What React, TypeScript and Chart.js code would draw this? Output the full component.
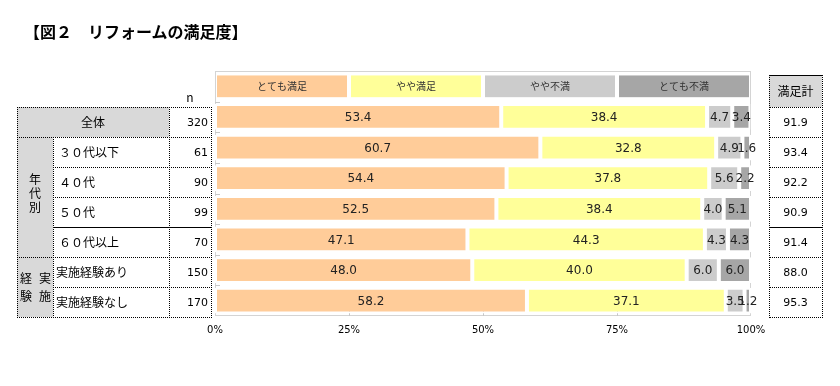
import React, { useEffect, useRef } from 'react';
import { Chart, registerables } from 'chart.js';

Chart.register(...registerables);

// ---- data ----
const categories = ['全体', '３０代以下', '４０代', '５０代', '６０代以上', '実施経験あり', '実施経験なし'];
const sampleSizes = [320, 61, 90, 99, 70, 150, 170];
const seriesNames = ['とても満足', 'やや満足', 'やや不満', 'とても不満'];
const veryHappy = [53.4, 60.7, 54.4, 52.5, 47.1, 48.0, 58.2];
const somewhatHappy = [38.4, 32.8, 37.8, 38.4, 44.3, 40.0, 37.1];
const somewhatUnhappy = [4.7, 4.9, 5.6, 4.0, 4.3, 6.0, 3.5];
const veryUnhappy = [3.4, 1.6, 2.2, 5.1, 4.3, 6.0, 1.2];
const satisfiedTotal = [91.9, 93.4, 92.2, 90.9, 91.4, 88.0, 95.3];
const xTicks = [0, 25, 50, 75, 100];

const COLORS = ['#FFCC99', '#FFFF99', '#CCCCCC', '#A6A6A6'];
const JP = '"Noto Sans CJK JP", sans-serif';
const NUM = '"DejaVu Sans", sans-serif';

// ---- table layout ----
const ROW_Y = [107, 137, 167, 197, 227, 257, 287, 317];
const LX = [17, 53, 169, 211];
const RX = [769, 822];
const R_TOP = 75;
const GRAY = '#D9D9D9';

const H = ({ x1, x2, y, solid }: any) => (
  <div style={{ position: 'absolute', left: x1, top: y, width: x2 - x1 + 1, height: 0, borderTop: `1px ${solid ? 'solid' : 'dotted'} #000` }} />
);
const V = ({ x, y1, y2, solid }: any) => (
  <div style={{ position: 'absolute', left: x, top: y1, width: 0, height: y2 - y1 + 1, borderLeft: `1px ${solid ? 'solid' : 'dotted'} #000` }} />
);
const Box = ({ x1, x2, y1, y2, bg }: any) => (
  <div style={{ position: 'absolute', left: x1, top: y1, width: x2 - x1, height: y2 - y1, background: bg }} />
);
const T = ({ x, y, w, h, align, font, size, children, weight }: any) => (
  <div
    style={{
      position: 'absolute', left: x, top: y, width: w, height: h, display: 'flex', alignItems: 'center',
      justifyContent: align || 'center', fontFamily: font || JP, fontSize: size || 12, color: '#000',
      whiteSpace: 'nowrap', lineHeight: 1, fontWeight: weight || 'normal',
    }}
  >
    {children}
  </div>
);

const decorPlugin = {
  id: 'decor',
  beforeDatasetsDraw(chart: any) {
    const { ctx, chartArea: a, scales } = chart;
    const x = scales.x, y = scales.y;
    ctx.save();
    ctx.strokeStyle = '#D4D4D4';
    ctx.lineWidth = 1;
    ctx.strokeRect(Math.round(a.left) + 0.5, Math.round(a.top) + 0.5, Math.round(a.width) - 1, Math.round(a.height) - 1);
    ctx.strokeStyle = '#C8C8C8';
    ctx.beginPath();
    xTicks.slice(1, -1).forEach((v) => {
      const px = Math.round(x.getPixelForValue(v)) + 0.5;
      ctx.moveTo(px, a.bottom);
      ctx.lineTo(px, a.bottom - 5);
    });
    const n = chart.data.labels.length;
    for (let i = 1; i < n; i++) {
      const py = Math.round((y.getPixelForValue(i - 1) + y.getPixelForValue(i)) / 2) + 0.5;
      ctx.moveTo(a.left, py);
      ctx.lineTo(a.left + 5, py);
    }
    ctx.stroke();
    ctx.restore();
  },
  afterDatasetsDraw(chart: any) {
    const { ctx, scales } = chart;
    const x = scales.x, y = scales.y;
    ctx.save();
    // legend row (category 0)
    const ref = chart.getDatasetMeta(0).data[1];
    const h = ref.height;
    const cy = y.getPixelForValue(0);
    seriesNames.forEach((name, i) => {
      const x0 = x.getPixelForValue(xTicks[i]);
      const x1 = x.getPixelForValue(xTicks[i + 1]);
      ctx.fillStyle = COLORS[i];
      ctx.fillRect(x0 + 2, cy - h / 2 + 2, x1 - x0 - 4, h - 4);
      ctx.fillStyle = '#333';
      ctx.font = `10px ${JP}`;
      ctx.textAlign = 'center';
      ctx.textBaseline = 'middle';
      ctx.fillText(name, (x0 + x1) / 2, cy);
    });
    // value labels
    ctx.font = `12px ${NUM}`;
    ctx.fillStyle = '#222';
    ctx.textAlign = 'center';
    ctx.textBaseline = 'middle';
    chart.data.datasets.forEach((ds: any, di: number) => {
      const meta = chart.getDatasetMeta(di);
      meta.data.forEach((el: any, idx: number) => {
        const v = ds.data[idx];
        if (v == null) return;
        const p = el.getProps(['x', 'base', 'y'], true);
        ctx.fillText(Number(v).toFixed(1), (p.x + p.base) / 2, p.y + 1);
      });
    });
    ctx.restore();
  },
};

function BarChart() {
  const ref = useRef<HTMLCanvasElement | null>(null);
  useEffect(() => {
    if (!ref.current) return;
    const series = [veryHappy, somewhatHappy, somewhatUnhappy, veryUnhappy];
    const chart = new Chart(ref.current, {
      type: 'bar',
      data: {
        labels: ['', ...categories],
        datasets: series.map((d, i) => ({
          label: seriesNames[i],
          data: [null, ...d],
          backgroundColor: COLORS[i],
          borderColor: '#FFFFFF',
          borderWidth: 2,
          borderSkipped: false,
          barPercentage: 0.84,
          categoryPercentage: 1,
        })),
      } as any,
      options: {
        indexAxis: 'y',
        animation: false,
        responsive: false,
        maintainAspectRatio: false,
        layout: { padding: { left: 215, right: 89, top: 71, bottom: 42 } },
        plugins: { legend: { display: false }, tooltip: { enabled: false } },
        scales: {
          x: {
            stacked: true,
            min: 0,
            max: 100,
            afterBuildTicks: (axis: any) => {
              axis.ticks = xTicks.map((v) => ({ value: v }));
            },
            ticks: {
              callback: (v: any) => v + '%',
              font: { family: 'DejaVu Sans', size: 10 },
              color: '#000',
              padding: 8,
              maxRotation: 0,
              autoSkip: false,
            },
            grid: { display: false, drawTicks: false },
            border: { display: false },
          },
          y: { stacked: true, display: false },
        },
      } as any,
      plugins: [decorPlugin],
    });
    return () => chart.destroy();
  }, []);
  return <canvas ref={ref} width={840} height={386} style={{ position: 'absolute', left: 0, top: 0, width: 840, height: 386 }} />;
}

export default function App() {
  const rows = categories.map((c, i) => ({ c, i }));
  return (
    <div style={{ position: 'absolute', left: 0, top: 0, width: 840, height: 386, background: '#fff', overflow: 'hidden' }}>
      <BarChart />
      {/* title */}
      <T x={24} y={21} w={280} h={20} align="flex-start" size={16} weight="bold">【図２　リフォームの満足度】</T>

      {/* left table fills */}
      <Box x1={LX[0]} x2={LX[2]} y1={ROW_Y[0]} y2={ROW_Y[1]} bg={GRAY} />
      <Box x1={LX[0]} x2={LX[1]} y1={ROW_Y[1]} y2={ROW_Y[7]} bg={GRAY} />
      {/* left table lines */}
      <H x1={LX[0]} x2={LX[3]} y={ROW_Y[0]} />
      <H x1={LX[0]} x2={LX[3]} y={ROW_Y[1]} />
      <H x1={LX[1]} x2={LX[3]} y={ROW_Y[2]} />
      <H x1={LX[1]} x2={LX[3]} y={ROW_Y[3]} />
      <H x1={LX[1]} x2={LX[3]} y={ROW_Y[4]} solid />
      <H x1={LX[0]} x2={LX[3]} y={ROW_Y[5]} />
      <H x1={LX[1]} x2={LX[3]} y={ROW_Y[6]} />
      <H x1={LX[0]} x2={LX[3]} y={ROW_Y[7]} />
      <V x={LX[0]} y1={ROW_Y[0]} y2={ROW_Y[7]} />
      <V x={LX[1]} y1={ROW_Y[1]} y2={ROW_Y[7]} />
      <V x={LX[2]} y1={ROW_Y[0]} y2={ROW_Y[7]} />
      <V x={LX[3]} y1={ROW_Y[0]} y2={ROW_Y[7]} />

      <T x={LX[2]} y={89} w={LX[3] - LX[2]} h={16} size={12}>n</T>
      {rows.map(({ c, i }) =>
        i === 0 ? (
          <T key={c} x={LX[0]} y={ROW_Y[0]} w={LX[2] - LX[0]} h={30}>{c}</T>
        ) : (
          <T key={c} x={LX[1] + (i >= 5 ? 3 : 6)} y={ROW_Y[i]} w={LX[2] - LX[1] - 6} h={30} align="flex-start">{c}</T>
        )
      )}
      {sampleSizes.map((n, i) => (
        <T key={'n' + i} x={LX[2]} y={ROW_Y[i]} w={LX[3] - LX[2] - 3} h={30} align="flex-end" font={NUM} size={11}>{n}</T>
      ))}
      {/* group labels */}
      {['年', '代', '別'].map((ch, k) => (
        <T key={ch} x={LX[0]} y={172 + k * 14} w={LX[1] - LX[0]} h={14}>{ch}</T>
      ))}
      <T x={LX[0] + 1} y={270} w={16} h={16}>経</T>
      <T x={LX[0] + 20} y={270} w={16} h={16}>実</T>
      <T x={LX[0] + 1} y={288} w={16} h={16}>験</T>
      <T x={LX[0] + 20} y={288} w={16} h={16}>施</T>

      {/* right table */}
      <Box x1={RX[0]} x2={RX[1]} y1={R_TOP} y2={ROW_Y[0]} bg={GRAY} />
      <H x1={RX[0]} x2={RX[1]} y={R_TOP} solid />
      {ROW_Y.map((yy, k) => (
        <H key={'r' + k} x1={RX[0]} x2={RX[1]} y={yy} solid={k === 4} />
      ))}
      <V x={RX[0]} y1={R_TOP} y2={ROW_Y[7]} />
      <V x={RX[1]} y1={R_TOP} y2={ROW_Y[7]} />
      <T x={RX[0]} y={R_TOP} w={RX[1] - RX[0]} h={ROW_Y[0] - R_TOP} size={12}>満足計</T>
      {satisfiedTotal.map((v, i) => (
        <T key={'s' + i} x={RX[0]} y={ROW_Y[i]} w={RX[1] - RX[0]} h={30} font={NUM} size={11}>{v.toFixed(1)}</T>
      ))}
    </div>
  );
}
